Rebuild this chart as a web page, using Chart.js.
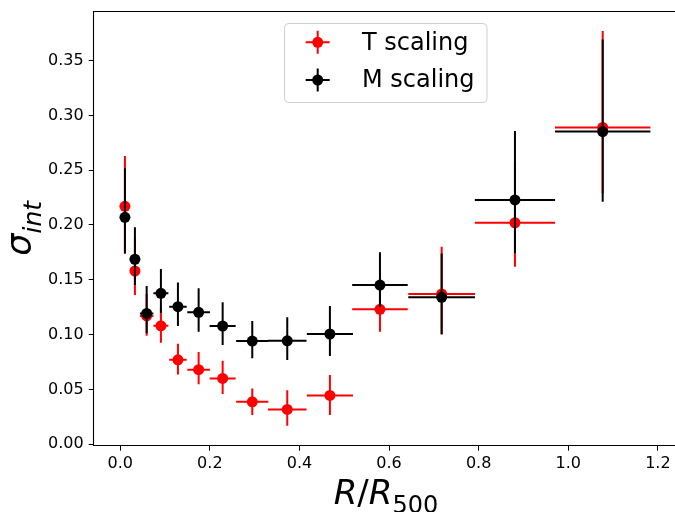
<!DOCTYPE html>
<html><head><meta charset="utf-8">
<script src="https://cdn.jsdelivr.net/npm/chart.js@4/dist/chart.umd.min.js"></script>
<style>html,body{margin:0;padding:0;overflow:hidden;background:#fff;width:675px;height:512px}canvas{display:block}</style>
</head><body><canvas id="c" width="675" height="512"></canvas>
<script>
// ---- data ----
const radiusCentres = [0.0105, 0.0328, 0.059, 0.0908, 0.1288, 0.175, 0.2286, 0.2947, 0.3728, 0.468, 0.5797, 0.7174, 0.881, 1.0768];
const radiusHalfWidths = [0.0105, 0.011, 0.015, 0.0167, 0.0195, 0.0253, 0.029, 0.036, 0.043, 0.0515, 0.062, 0.0745, 0.0895, 0.1065];
const tScaling = [0.217, 0.158, 0.117, 0.108, 0.077, 0.068, 0.060, 0.0386, 0.0317, 0.0445, 0.123, 0.137, 0.202, 0.289];
const tErrLow  = [0.043, 0.022, 0.018, 0.0155, 0.0134, 0.0134, 0.0143, 0.012, 0.015, 0.018, 0.0205, 0.037, 0.0402, 0.060];
const tErrHigh = [0.046, 0.030, 0.020, 0.016, 0.0146, 0.016, 0.016, 0.0122, 0.0176, 0.0186, 0.025, 0.043, 0.0557, 0.088];
const mScaling = [0.207, 0.1687, 0.1193, 0.1376, 0.1254, 0.1203, 0.1078, 0.0941, 0.0943, 0.1005, 0.1452, 0.134, 0.2228, 0.2852];
const mErrLow  = [0.033, 0.0235, 0.018, 0.018, 0.0176, 0.0177, 0.0174, 0.0158, 0.0176, 0.0201, 0.020, 0.0338, 0.0487, 0.064];
const mErrHigh = [0.0447, 0.0292, 0.025, 0.0222, 0.022, 0.0219, 0.0216, 0.0183, 0.0214, 0.0256, 0.0299, 0.040, 0.063, 0.084];
const seriesLabels = ['T scaling', 'M scaling'];
const xTickValues = [0.0, 0.2, 0.4, 0.6, 0.8, 1.0, 1.2];
const yTickValues = [0.00, 0.05, 0.10, 0.15, 0.20, 0.25, 0.30, 0.35];
const xTitleParts = [['R','i'], ['/','n'], ['R','i'], ['500','s']];
const yTitleParts = [['σ','i'], ['int','si']];

function buildSeries(vals, lo, hi) {
  return {
    points: vals.map((v, i) => ({ x: radiusCentres[i], y: v })),
    err: vals.map((v, i) => ({ xl: radiusHalfWidths[i], xh: radiusHalfWidths[i], yl: lo[i], yh: hi[i] }))
  };
}
const tS = buildSeries(tScaling, tErrLow, tErrHigh);
const mS = buildSeries(mScaling, mErrLow, mErrHigh);

const FONT = '"DejaVu Sans", sans-serif';

const errorBarPlugin = {
  id: 'errorBars',
  beforeDatasetDraw(chart, args) {
    const ds = chart.data.datasets[args.index];
    const xs = chart.scales.x, ys = chart.scales.y, ctx = chart.ctx;
    ctx.save();
    ctx.strokeStyle = ds.backgroundColor;
    ctx.lineWidth = 2;
    ds.data.forEach((p, i) => {
      const e = ds.errorBars[i];
      const px = xs.getPixelForValue(p.x), py = ys.getPixelForValue(p.y);
      ctx.beginPath();
      ctx.moveTo(xs.getPixelForValue(p.x - e.xl), py);
      ctx.lineTo(xs.getPixelForValue(p.x + e.xh), py);
      ctx.moveTo(px, ys.getPixelForValue(p.y - e.yl));
      ctx.lineTo(px, ys.getPixelForValue(p.y + e.yh));
      ctx.stroke();
    });
    ctx.restore();
  }
};

const framePlugin = {
  id: 'frame',
  beforeDatasetsDraw(chart) {
    const a = chart.chartArea, ctx = chart.ctx;
    const l = Math.floor(a.left) + 0.5, t = Math.floor(a.top) + 0.5, b = Math.floor(a.bottom) + 0.5;
    ctx.save();
    ctx.strokeStyle = '#000';
    ctx.lineWidth = 1.1;
    ctx.beginPath();
    ctx.moveTo(chart.width + 2, t); ctx.lineTo(l, t); ctx.lineTo(l, b); ctx.lineTo(chart.width + 2, b);
    ctx.stroke();
    ctx.restore();
  }
};

function partFont(kind, F) {
  const sub = kind.indexOf('s') >= 0;
  const ital = kind.indexOf('i') >= 0;
  return (ital ? 'italic ' : '') + Math.round(sub ? F * 0.7 : F) + 'px ' + FONT;
}
function drawMath(ctx, parts, F, shift) {
  let w = 0;
  parts.forEach(p => { ctx.font = partFont(p[1], F); w += ctx.measureText(p[0]).width; });
  let x = -w / 2;
  parts.forEach(p => {
    ctx.font = partFont(p[1], F);
    ctx.fillText(p[0], x, p[1].indexOf('s') >= 0 ? shift : 0);
    x += ctx.measureText(p[0]).width;
  });
}

const titlesPlugin = {
  id: 'mathTitles',
  afterDraw(chart) {
    const a = chart.chartArea, ctx = chart.ctx;
    ctx.save();
    ctx.fillStyle = '#000';
    ctx.textBaseline = 'alphabetic';
    ctx.textAlign = 'left';
    ctx.save();
    ctx.translate(386, 504);
    drawMath(ctx, xTitleParts, 34, 9);
    ctx.restore();
    ctx.save();
    ctx.translate(31, (a.top + a.bottom) / 2);
    ctx.rotate(-Math.PI / 2);
    drawMath(ctx, yTitleParts, 35, 10);
    ctx.restore();
    ctx.restore();
  }
};

const legendPlugin = {
  id: 'boxLegend',
  afterDraw(chart) {
    const ctx = chart.ctx;
    const bx = 284.5, by = 23.5, bw = 202.5, bh = 79, r = 4;
    ctx.save();
    ctx.beginPath();
    ctx.moveTo(bx + r, by);
    ctx.arcTo(bx + bw, by, bx + bw, by + bh, r);
    ctx.arcTo(bx + bw, by + bh, bx, by + bh, r);
    ctx.arcTo(bx, by + bh, bx, by, r);
    ctx.arcTo(bx, by, bx + bw, by, r);
    ctx.closePath();
    ctx.fillStyle = 'rgba(255,255,255,0.8)';
    ctx.fill();
    ctx.strokeStyle = '#d0d0d0';
    ctx.lineWidth = 1;
    ctx.stroke();
    const rows = [42.3, 80];
    chart.data.datasets.forEach((ds, i) => {
      const cy = rows[i], cx = 317.7;
      ctx.strokeStyle = ds.backgroundColor;
      ctx.lineWidth = 2;
      ctx.beginPath();
      ctx.moveTo(cx - 12, cy); ctx.lineTo(cx + 12, cy);
      ctx.moveTo(cx, cy - 11.5); ctx.lineTo(cx, cy + 11.5);
      ctx.stroke();
      ctx.fillStyle = ds.backgroundColor;
      ctx.beginPath(); ctx.arc(cx, cy, 5.5, 0, Math.PI * 2); ctx.fill();
      ctx.fillStyle = '#000';
      ctx.font = '24px ' + FONT;
      ctx.textBaseline = 'middle';
      ctx.textAlign = 'left';
      ctx.fillText(ds.label, 362, cy + 1);
    });
    ctx.restore();
  }
};

new Chart(document.getElementById('c'), {
  type: 'scatter',
  data: {
    datasets: [
      { label: seriesLabels[0], data: tS.points, errorBars: tS.err, backgroundColor: '#ff0000', borderColor: '#ff0000',
        pointRadius: 5.5, pointBorderWidth: 0, pointHoverRadius: 5.5, order: 1 },
      { label: seriesLabels[1], data: mS.points, errorBars: mS.err, backgroundColor: '#000000', borderColor: '#000000',
        pointRadius: 5.5, pointBorderWidth: 0, pointHoverRadius: 5.5, order: 0 }
    ]
  },
  options: {
    responsive: false,
    animation: false,
    devicePixelRatio: 1,
    layout: { autoPadding: false, padding: { left: 0, top: 11, right: 0, bottom: 0 } },
    plugins: { legend: { display: false }, tooltip: { enabled: false } },
    scales: {
      x: {
        type: 'linear', min: -0.0592, max: 1.2382,
        afterBuildTicks: s => { s.ticks = xTickValues.map(v => ({ value: v })); },
        afterFit: s => { s.height = 512 - 445.7; s.paddingLeft = 0; s.paddingRight = 0; },
        grid: { display: true, drawOnChartArea: false, drawTicks: true, tickLength: 5, tickColor: '#000', tickWidth: 1 },
        border: { display: false },
        ticks: { color: '#000', padding: 4, font: { family: FONT, size: 16 }, maxRotation: 0, autoSkip: false,
          callback: v => Number(v).toFixed(1) }
      },
      y: {
        type: 'linear', min: -0.0014, max: 0.3952,
        afterBuildTicks: s => { s.ticks = yTickValues.map(v => ({ value: v })); },
        afterFit: s => { s.width = 93.7; s.paddingTop = 0; s.paddingBottom = 0; },
        grid: { display: true, drawOnChartArea: false, drawTicks: true, tickLength: 5, tickColor: '#000', tickWidth: 1 },
        border: { display: false },
        ticks: { color: '#000', padding: 5, font: { family: FONT, size: 16 }, autoSkip: false,
          callback: v => Number(v).toFixed(2) }
      }
    }
  },
  plugins: [errorBarPlugin, framePlugin, titlesPlugin, legendPlugin]
});
</script></body></html>
